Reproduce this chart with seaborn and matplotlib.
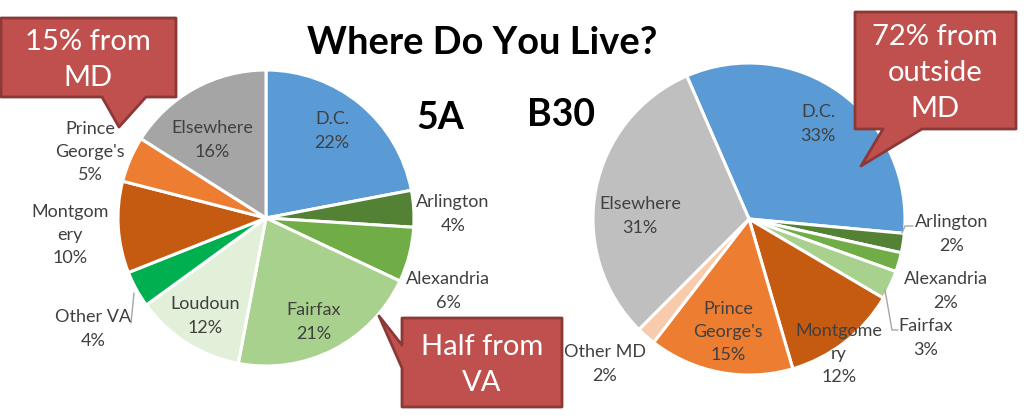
import matplotlib
matplotlib.use("Agg")
import matplotlib.pyplot as plt
from matplotlib.patches import Polygon
import seaborn as sns

# 5A 数据
names_5a = ["D.C.", "Arlington", "Alexandria", "Fairfax", "Loudoun", "Other VA",
            "Montgom\nery", "Prince\nGeorge's", "Elsewhere"]
values_5a = [22, 4, 6, 21, 12, 4, 10, 5, 16]
colors_5a = ["#5B9BD5", "#548235", "#70AD47", "#A9D18E", "#E2F0D9", "#00B050",
             "#C55A11", "#ED7D31", "#A5A5A5"]

# B30 数据
names_b30 = ["D.C.", "Arlington", "Alexandria", "Fairfax", "Montgome\nry",
             "Prince\nGeorge's", "Other MD", "Elsewhere"]
values_b30 = [33, 2, 2, 3, 12, 15, 2, 31]
colors_b30 = ["#5B9BD5", "#548235", "#70AD47", "#A9D18E", "#C55A11",
              "#ED7D31", "#F8CBAD", "#BFBFBF"]

# 标签中心位置 (像素)
label_pos_5a = [(332, 131), (453, 214), (448, 291), (314, 322), (205, 316),
                (93, 329), (70, 235), (90, 152), (212, 140)]
label_pos_b30 = [(818, 124), (952, 234), (946, 291), (926, 338), (839, 354),
                 (728, 332), (605, 364), (640, 216)]

sns.set_theme(style="white")
plt.rcParams["font.family"] = ["Lato", "DejaVu Sans"]

W, H = 1024, 420
fig = plt.figure(figsize=(W / 100, H / 100), dpi=100)


def draw_pie(cx, cy, r, values, colors, start):
    ax = fig.add_axes([(cx - r) / W, (H - cy - r) / H, 2 * r / W, 2 * r / H])
    ax.pie(values, colors=colors, startangle=start, counterclock=False,
           wedgeprops={"edgecolor": "white", "linewidth": 2.2})
    ax.set_xlim(-1, 1)
    ax.set_ylim(-1, 1)


draw_pie(266, 218, 148, values_5a, colors_5a, 90)
draw_pie(749, 219, 156, values_b30, colors_b30, 113.5)

# 覆盖层: 文字和标注框都用像素坐标
over = fig.add_axes([0, 0, 1, 1], zorder=5)
over.set_xlim(0, W)
over.set_ylim(H, 0)
over.axis("off")


def put_labels(names, values, positions):
    for name, value, (x, y) in zip(names, values, positions):
        over.text(x, y, f"{name}\n{value}%", ha="center", va="center",
                  fontsize=13, color="#404040", linespacing=1.56)


put_labels(names_5a, values_5a, label_pos_5a)
put_labels(names_b30, values_b30, label_pos_b30)

# 引导线
for xs, ys in [([134, 131], [293, 323]),
               ([902, 905, 913], [233, 226, 226]),
               ([885, 892, 898], [290, 330, 330])]:
    over.plot(xs, ys, color="#A6A6A6", lw=1)

over.text(482, 43, "Where Do You Live?", ha="center", va="center",
          fontsize=27.4, fontweight="bold", color="black")
over.text(440, 118, "5A", ha="center", va="center", fontsize=27,
          fontweight="bold", color="black")
over.text(561, 115, "B30", ha="center", va="center", fontsize=27,
          fontweight="bold", color="black")

# 红色标注框
callouts = [
    ("15% from\nMD", [(1, 18), (176, 18), (176, 97), (146, 97), (119, 127),
                      (102, 97), (1, 97)], (88, 60)),
    ("Half from\nVA", [(402, 318), (562, 318), (562, 407), (402, 407),
                       (402, 368), (379, 316), (402, 345)], (482, 365)),
    ("72% from\noutside\nMD", [(855, 12), (1016, 12), (1016, 129), (922, 129),
                               (861, 166), (883, 129), (855, 129)], (935, 73)),
]
for text, points, center in callouts:
    over.add_patch(Polygon(points, closed=True, facecolor="#C0504D",
                           edgecolor="#8C3836", lw=2, joinstyle="round"))
    over.text(center[0], center[1], text, ha="center", va="center",
              fontsize=21, color="white", linespacing=1.47)

fig.savefig("out.png", dpi=100)
